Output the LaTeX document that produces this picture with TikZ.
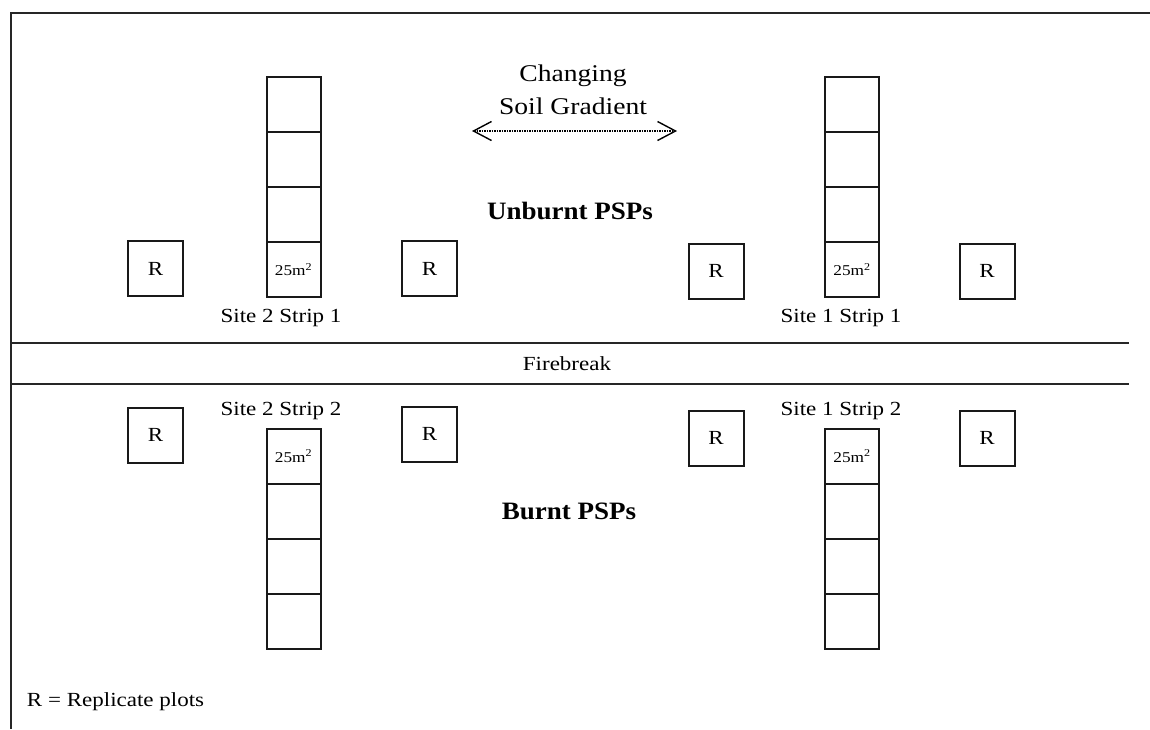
\documentclass[tikz,border=0pt]{standalone}
\usepackage{fontspec}
\setmainfont{Liberation Serif}[FakeStretch=1.15]
\newfontfamily\boldfam{Liberation Serif}[FakeStretch=1.08]
\usetikzlibrary{arrows.meta}
\begin{document}
\begin{tikzpicture}[x=1pt,y=-1pt,line width=2pt,
  cell/.style={draw=black!90,minimum width=54pt,minimum height=55pt,inner sep=0pt,
    font=\fontsize{15}{15}\selectfont},
  rbox/.style={draw=black!90,minimum size=55pt,inner sep=0pt,font=\fontsize{20}{20}\selectfont},
  lbl/.style={font=\fontsize{20}{20}\selectfont,inner sep=0pt,anchor=base},
  big/.style={font=\fontsize{24}{33}\selectfont,inner sep=0pt,align=center},
  head/.style={font=\boldfam\bfseries\fontsize{25}{25}\selectfont,inner sep=0pt,anchor=base},
  rule/.style={line width=2.2pt,draw=black!85},
  grad/.style={line width=1.4pt,dash pattern=on 1.6pt off 0.9pt,
    {Straight Barb[length=18pt,width=19pt,line width=1.4pt]}-{Straight Barb[length=18pt,width=19pt,line width=1.4pt]}}]
\useasboundingbox (0,0) rectangle (1150,729);
\fill[white] (0,0) rectangle (1150,729);
% frame
\coordinate (fTR) at (1150,13);
\coordinate (fTL) at (11,13);
\coordinate (fBL) at (11,729);
\draw[rule] (fTR) -- (fTL) -- (fBL);
% firebreak lines
\coordinate (l1a) at (11,343); \coordinate (l1b) at (1129,343);
\coordinate (l2a) at (11,384); \coordinate (l2b) at (1129,384);
\draw[rule] (l1a) -- (l1b);
\draw[rule] (l2a) -- (l2b);
\node[lbl] (fire) at (567,370) {Firebreak};
% top strips
\foreach \n/\x in {a/293.5,b/852}{
  \node[cell] (t\n1) at (\x,104.5) {};
  \node[cell] (t\n2) at (\x,159.5) {};
  \node[cell] (t\n3) at (\x,214.5) {};
  \node[cell] (t\n4) at (\x,269.5) {25m\textsuperscript{2}};
}
% bottom strips
\foreach \n/\x in {a/293.5,b/852}{
  \node[cell] (b\n1) at (\x,456) {25m\textsuperscript{2}};
  \node[cell] (b\n2) at (\x,511) {};
  \node[cell] (b\n3) at (\x,566) {};
  \node[cell] (b\n4) at (\x,621) {};
}
% replicate plots
\node[rbox] (r1) at (155.5,268.5) {R};
\node[rbox] (r2) at (429.5,268.5) {R};
\node[rbox] (r3) at (716,271) {R};
\node[rbox] (r4) at (987,271) {R};
\node[rbox] (r5) at (155.5,435) {R};
\node[rbox] (r6) at (429.5,434) {R};
\node[rbox] (r7) at (716,438) {R};
\node[rbox] (r8) at (987,438) {R};
% labels
\node[lbl] (s21) at (281,322) {Site 2 Strip 1};
\node[lbl] (s11) at (841,322) {Site 1 Strip 1};
\node[lbl] (s22) at (281,415) {Site 2 Strip 2};
\node[lbl] (s12) at (841,415) {Site 1 Strip 2};
\node[head] (unb) at (570,219) {Unburnt PSPs};
\node[head] (bur) at (569,519) {Burnt PSPs};
\node[big,anchor=base] (chg) at (573,114) {Changing\\Soil Gradient};
% gradient arrow
\coordinate (gL) at (472,131);
\coordinate (gR) at (677,131);
\draw[grad] (gL) -- (gR);
% legend
\node[lbl,anchor=base west] (leg) at (26,706) {R = Replicate plots};
\end{tikzpicture}
\end{document}
